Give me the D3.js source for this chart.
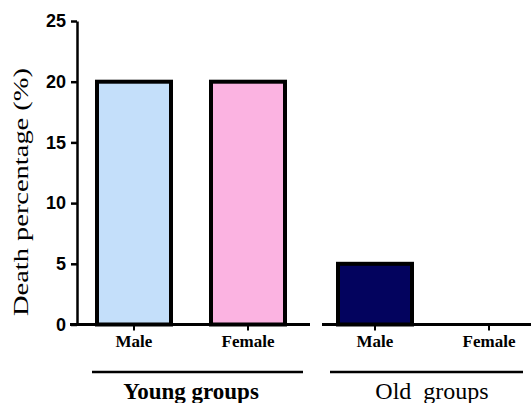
<!DOCTYPE html>
<html><head><meta charset="utf-8">
<script src="https://cdn.jsdelivr.net/npm/d3@7"></script>
<style>body{margin:0;background:#fff}svg{display:block}</style>
</head><body>
<svg id="c" width="531" height="403"></svg>
<script>
const groups = ["Young groups", "Old  groups"];
const sexes = ["Male", "Female"];
const values = [[20, 20], [5, 0]];
const colors = [["#c4dffa", "#fbb3e1"], ["#03035e", "#ffffff"]];
const yTicks = [0, 5, 10, 15, 20, 25];

const svg = d3.select("#c");
const y = d3.scaleLinear().domain([0, 25]).range([324.5, 21]);
const xGroup = d3.scalePoint().domain(groups).range([191, 432]);
const xInner = d3.scalePoint().domain(sexes).range([-57, 57]);
const barW = 74;

// Y axis
const yAxis = d3.axisLeft(y).tickValues(yTicks).tickSize(6).tickSizeOuter(0).tickPadding(5);
const ga = svg.append("g").attr("transform", "translate(77,0)").call(yAxis);
ga.select(".domain").attr("stroke", "#000").attr("stroke-width", 2.5);
ga.selectAll(".tick line").attr("stroke", "#000").attr("stroke-width", 2.5);
ga.selectAll(".tick text").attr("font-family", "Liberation Sans, Arial, sans-serif")
  .attr("font-weight", "bold").attr("font-size", 18).attr("fill", "#000");

// Y title
svg.append("text")
  .attr("transform", "translate(28,192) rotate(-90)")
  .attr("text-anchor", "middle")
  .attr("font-family", "Liberation Serif, Times New Roman, serif")
  .attr("font-size", 22).attr("fill", "#000")
  .attr("textLength", 248).attr("lengthAdjust", "spacingAndGlyphs")
  .text("Death percentage (%)");

// baseline segments per group
const segs = [[70, 310], [322, 531]];
groups.forEach((g, gi) => {
  svg.append("line").attr("x1", segs[gi][0]).attr("x2", segs[gi][1])
    .attr("y1", y(0)).attr("y2", y(0)).attr("stroke", "#000").attr("stroke-width", 3);
});

// bars
groups.forEach((g, gi) => {
  sexes.forEach((s, si) => {
    const v = values[gi][si];
    const cx = xGroup(g) + xInner(s);
    if (v > 0) {
      svg.append("rect")
        .attr("x", cx - barW / 2).attr("width", barW)
        .attr("y", y(v)).attr("height", y(0) - y(v))
        .attr("fill", colors[gi][si]).attr("stroke", "#000").attr("stroke-width", 4);
    }
    svg.append("line").attr("x1", cx).attr("x2", cx)
      .attr("y1", y(0)).attr("y2", y(0) + 6).attr("stroke", "#000").attr("stroke-width", 2);
    svg.append("text").attr("x", cx).attr("y", 347)
      .attr("text-anchor", "middle")
      .attr("font-family", "Liberation Serif, Times New Roman, serif")
      .attr("font-weight", "bold").attr("font-size", 17).attr("fill", "#000")
      .text(s);
  });
});

// group lines and labels
const gLines = [[92, 303], [330, 523]];
groups.forEach((g, gi) => {
  svg.append("line").attr("x1", gLines[gi][0]).attr("x2", gLines[gi][1])
    .attr("y1", 372).attr("y2", 372).attr("stroke", "#000").attr("stroke-width", 2.5);
  svg.append("text").attr("x", xGroup(g)).attr("y", 399)
    .attr("text-anchor", "middle")
    .attr("font-family", "Liberation Serif, Times New Roman, serif")
    .attr("font-weight", gi === 0 ? "bold" : "normal")
    .attr("font-size", gi === 0 ? 23 : 24).attr("fill", "#000")
    .style("white-space", "pre")
    .text(g);
});
</script>
</body></html>
